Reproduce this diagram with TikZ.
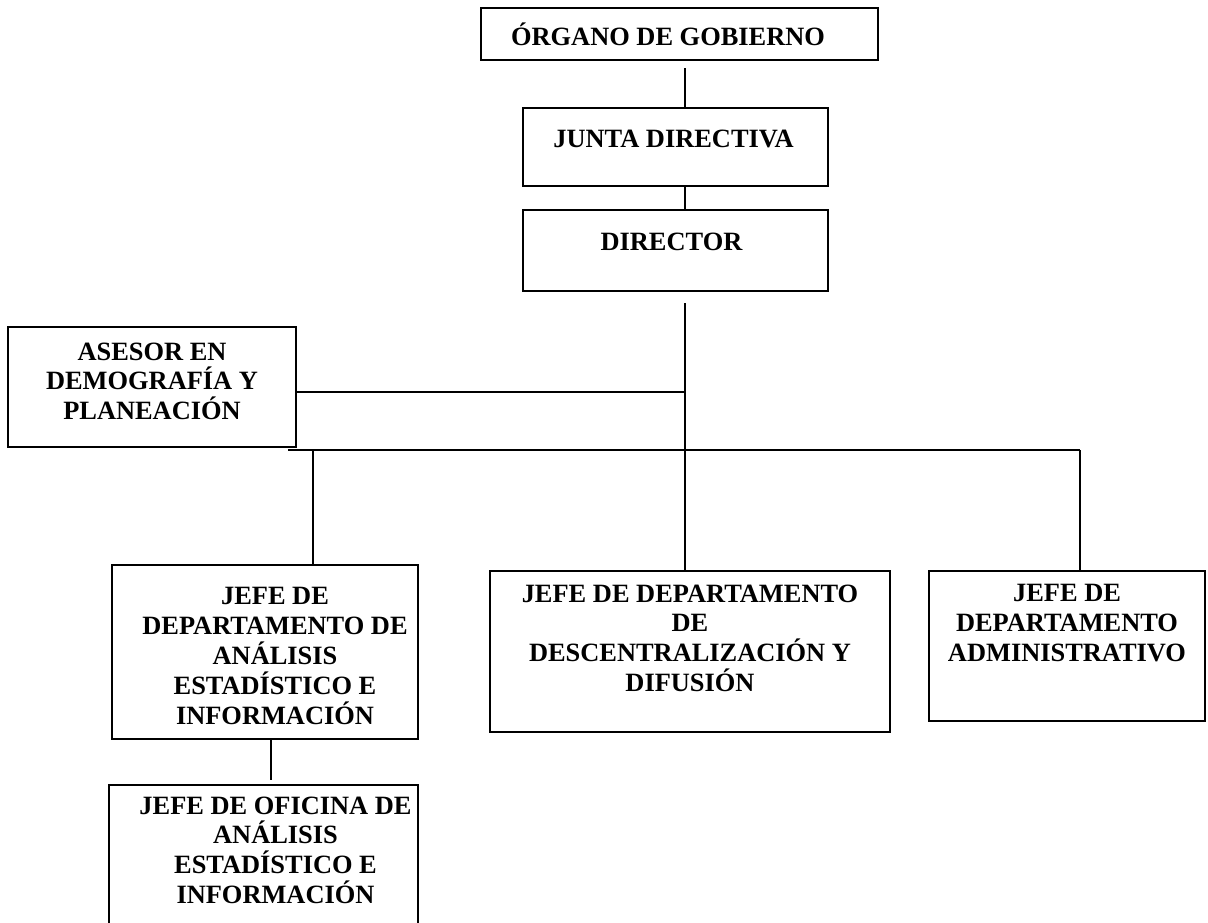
\documentclass[tikz,border=0pt]{standalone}
\usepackage{fontspec}
\setmainfont{Liberation Serif}
\usetikzlibrary{calc, positioning}

\tikzset{
  caja/.style 2 args={draw, line width=0.8pt, inner sep=0pt,
    minimum width=#1*0.5pt, minimum height=#2*0.5pt},
  texto/.style={inner sep=0pt, align=center,
    font=\fontsize{13.2}{14.9}\selectfont\bfseries},
  linea/.style={line width=0.7pt}
}

\begin{document}
\begin{tikzpicture}[x=0.5pt, y=-0.5pt]
        \useasboundingbox (0,0) rectangle (1208,922);
        \clip (0,0) rectangle (1208,922);
        % cajas
        \node[caja={397}{52}]  (organo)   at (679.5,34)   {};
        \node[caja={305}{78}]  (junta)    at (675.5,147)  {};
        \node[caja={305}{81}]  (director) at (675.5,250.5) {};
        \node[caja={288}{120}] (asesor)   at (152,387)    {};
        \node[caja={306}{174}] (analisis) at (265,652)    {};
        \node[caja={400}{161}] (desc)     at (690,651.5)  {};
        \node[caja={276}{150}] (admin)    at (1067,646)   {};
        \node[caja={309}{155}] (oficina)  at (263.5,862.5) {};
        % textos
        \node[texto] (organoT) at (668,34) {ÓRGANO DE GOBIERNO};
        \node[texto, below=11pt of junta.north, xshift=-1pt] (juntaT) {JUNTA DIRECTIVA};
        \node[texto, below=11.5pt of director.north, xshift=-2pt] (directorT) {DIRECTOR};
        \node[texto, below=8pt of asesor.north] (asesorT) {ASESOR EN\\DEMOGRAFÍA Y\\PLANEACIÓN};
        \node[texto, below=11.5pt of analisis.north, xshift=5pt] (analisisT)
          {JEFE DE\\DEPARTAMENTO DE\\ANÁLISIS\\ESTADÍSTICO E\\INFORMACIÓN};
        \node[texto, below=7pt of desc.north] (descT)
          {JEFE DE DEPARTAMENTO\\DE\\DESCENTRALIZACIÓN Y\\DIFUSIÓN};
        \node[texto, below=7pt of admin.north] (adminT)
          {JEFE DE\\DEPARTAMENTO\\ADMINISTRATIVO};
        \node[texto, below=6pt of oficina.north, xshift=6pt] (oficinaT)
          {JEFE DE OFICINA DE\\ANÁLISIS\\ESTADÍSTICO E\\INFORMACIÓN};
        % puntos de las lineas
        \coordinate (c1) at (685,68);
        \coordinate (c2) at (685,303);
        \coordinate (c3) at (296,392);
        \coordinate (busL) at (288,450);
        \coordinate (busR) at (1080,450);
        \coordinate (d1) at (313,450);
        \coordinate (d2) at (271,780);
        % lineas
        \draw[linea] (c1) -- (c1 |- junta.north);
        \draw[linea] (c1 |- junta.south) -- (c1 |- director.north);
        \draw[linea] (c2) -- (c2 |- busL);
        \draw[linea] (c3) -- (c3 -| c2);
        \draw[linea] (busL) -- (busR);
        \draw[linea] (d1) -- (d1 |- analisis.north);
        \draw[linea] (c2 |- busL) -- (c2 |- desc.north);
        \draw[linea] (busR) -- (busR |- admin.north);
        \draw[linea] (d2 |- analisis.south) -- (d2);
    \end{tikzpicture}
\end{document}
